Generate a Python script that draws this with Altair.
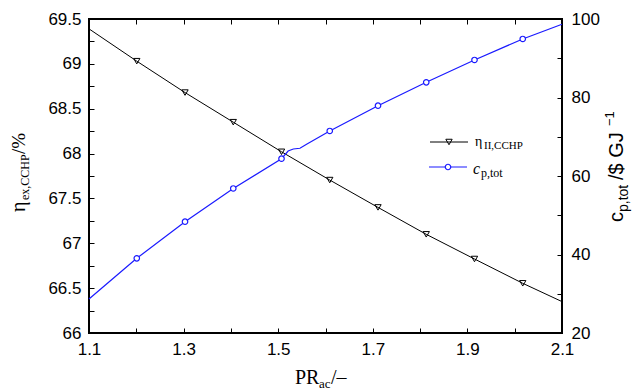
import altair as alt
import pandas as pd

# Exergy efficiency of the CCHP system versus compressor pressure ratio
pr_eta = [1.100, 1.201, 1.303, 1.405, 1.507, 1.609, 1.711, 1.813, 1.915, 2.017, 2.100]
eta_vals = [69.39, 69.03, 68.68, 68.35, 68.02, 67.705, 67.40, 67.10, 66.825, 66.554, 66.35]
eta_marked = [False, True, True, True, True, True, True, True, True, True, False]

# Total unit product cost versus compressor pressure ratio
pr_cost = [1.100, 1.201, 1.303, 1.405, 1.507, 1.521, 1.532, 1.546, 1.560,
           1.609, 1.711, 1.813, 1.915, 2.017, 2.100]
cost_vals = [28.66, 39.03, 48.36, 56.82, 64.41, 66.37, 66.88, 67.06, 68.08,
             71.47, 77.91, 83.87, 89.56, 94.91, 98.65]
cost_marked = [False, True, True, True, True, False, False, False, False,
               True, True, True, True, True, False]

# Tick positions and labelled ticks
x_ticks = [1.1, 1.2, 1.3, 1.4, 1.5, 1.6, 1.7, 1.8, 1.9, 2.0, 2.1]
x_labels = ["1.1", "1.3", "1.5", "1.7", "1.9", "2.1"]
eta_ticks = [66, 66.25, 66.5, 66.75, 67, 67.25, 67.5, 67.75, 68, 68.25,
             68.5, 68.75, 69, 69.25, 69.5]
eta_labels = [66, 66.5, 67, 67.5, 68, 68.5, 69, 69.5]
cost_ticks = [20, 30, 40, 50, 60, 70, 80, 90, 100]
cost_labels = [20, 40, 60, 80, 100]

W, H = 473, 314
SANS = "Liberation Sans"
SERIF = "Liberation Serif"
BLUE = "#1a1aff"

eta_df = pd.DataFrame({"pr": pr_eta, "eta": eta_vals, "marked": eta_marked})
cost_df = pd.DataFrame({"pr": pr_cost, "cost": cost_vals, "marked": cost_marked})


def inward_axis(orient, values, label_expr=None, fmt=None, labels=True, pad=8):
    kw = dict(orient=orient, values=values, title=None, grid=False, domain=False,
              ticks=True, tickSize=5, tickWidth=1, tickColor="black", offset=-5,
              labels=labels, labelFont=SANS, labelFontSize=17, labelColor="black",
              labelPadding=pad, labelOverlap=False, labelFlush=False)
    if label_expr:
        kw["labelExpr"] = label_expr
    if fmt:
        kw["format"] = fmt
    return alt.Axis(**kw)


def pick(values, key):
    return "indexof(%s, %s) >= 0 ? datum.label : ''" % (str(values).replace(" ", ""), key)


x_bottom = alt.X("pr:Q", scale=alt.Scale(domain=[1.1, 2.1], nice=False, zero=False),
                 axis=inward_axis("bottom", x_ticks, fmt=".1f", pad=8,
                                  label_expr=pick(x_labels, "datum.label")))
x_top = alt.X("pr:Q", scale=alt.Scale(domain=[1.1, 2.1], nice=False, zero=False),
              axis=inward_axis("top", x_ticks, labels=False))
y_eta = alt.Y("eta:Q", scale=alt.Scale(domain=[66, 69.5], nice=False, zero=False),
              axis=inward_axis("left", eta_ticks, fmt="~g", pad=8,
                               label_expr=pick(eta_labels, "datum.value")))
y_cost = alt.Y("cost:Q", scale=alt.Scale(domain=[20, 100], nice=False, zero=False),
               axis=inward_axis("right", cost_ticks, fmt="d", pad=9,
                                label_expr=pick(cost_labels, "datum.value")))

eta_base = alt.Chart(eta_df)
eta_line = eta_base.mark_line(color="black", strokeWidth=1).encode(x=x_bottom, y=y_eta)
eta_pts = eta_base.transform_filter("datum.marked").mark_point(
    shape="triangle-down", filled=False, color="black", size=40, strokeWidth=1, opacity=1
).encode(x=x_bottom, y=y_eta)

cost_base = alt.Chart(cost_df)
cost_line = cost_base.mark_line(color=BLUE, strokeWidth=1.2).encode(x=x_top, y=y_cost)
cost_pts = cost_base.transform_filter("datum.marked").mark_point(
    shape="circle", filled=False, fill="white", fillOpacity=1, color=BLUE,
    size=30, strokeWidth=1.2, opacity=1
).encode(x=x_top, y=y_cost)

curves = alt.layer(
    alt.layer(eta_line, eta_pts),
    alt.layer(cost_line, cost_pts),
).resolve_scale(x="independent", y="independent")

one_row = pd.DataFrame({"k": [0]})


def label(text, x, y, font=SERIF, size=19, angle=0, dx=0, dy=0, style="normal", color="black"):
    return alt.Chart(one_row).mark_text(
        text=text, font=font, fontSize=size, angle=angle, dx=dx, dy=dy,
        align="left", baseline="alphabetic", fontStyle=style, color=color
    ).encode(x=alt.value(x), y=alt.value(y))


# Left axis title: eta_ex,CCHP / %
lt_x, lt_y = -64, 193
left_title = [
    label("η", lt_x, lt_y, size=20, angle=270),
    label("ex,CCHP", lt_x, lt_y, size=12, angle=270, dx=12, dy=4),
    label("/%", lt_x, lt_y, size=19, angle=270, dx=58),
]

# Right axis title: c_p,tot / $ GJ^-1
rt_x, rt_y = 534, 203
right_title = [
    label("c", rt_x, rt_y, font=SANS, size=20, angle=270),
    label("p,tot", rt_x, rt_y, font=SANS, size=14, angle=270, dx=10, dy=5),
    label("/$ GJ", rt_x, rt_y, font=SANS, size=20, angle=270, dx=42),
    label("−1", rt_x, rt_y, font=SANS, size=13, angle=270, dx=96, dy=-9),
]

# Bottom axis title: PR_ac / –
bt_x, bt_y = 206, 365
bottom_title = [
    label("PR", bt_x, bt_y, size=20),
    label("ac", bt_x, bt_y, size=13, dx=24, dy=4),
    label("/–", bt_x, bt_y, size=20, dx=36),
]

# Legend drawn inside the plot
leg_rules = [
    alt.Chart(one_row).mark_rule(color="black", strokeWidth=1).encode(
        x=alt.value(341), x2=alt.value(379), y=alt.value(123)),
    alt.Chart(one_row).mark_rule(color=BLUE, strokeWidth=1.2).encode(
        x=alt.value(340), x2=alt.value(378), y=alt.value(148)),
]
leg_marks = [
    alt.Chart(one_row).mark_point(shape="triangle-down", filled=False, color="black",
                                  size=40, strokeWidth=1, opacity=1).encode(
        x=alt.value(360), y=alt.value(123)),
    alt.Chart(one_row).mark_point(shape="circle", filled=False, fill="white", fillOpacity=1,
                                  color=BLUE, size=30, strokeWidth=1.2, opacity=1).encode(
        x=alt.value(359), y=alt.value(148)),
]
leg_text = [
    label("η", 386, 127, size=14),
    label("II,CCHP", 386, 127, size=11, dx=9, dy=3),
    label("c", 384, 155, size=16, style="italic"),
    label("p,tot", 384, 155, size=12, dx=8, dy=3),
]

chart = alt.layer(
    curves, *left_title, *right_title, *bottom_title, *leg_rules, *leg_marks, *leg_text
).properties(
    width=W, height=H,
    autosize=alt.AutoSizeParams(type="none"),
    padding={"left": 89, "top": 19, "right": 73, "bottom": 58},
    background="white",
).configure_view(stroke="black", strokeWidth=2)

chart.save("out.html", embed_options={"renderer": "svg", "actions": False})
